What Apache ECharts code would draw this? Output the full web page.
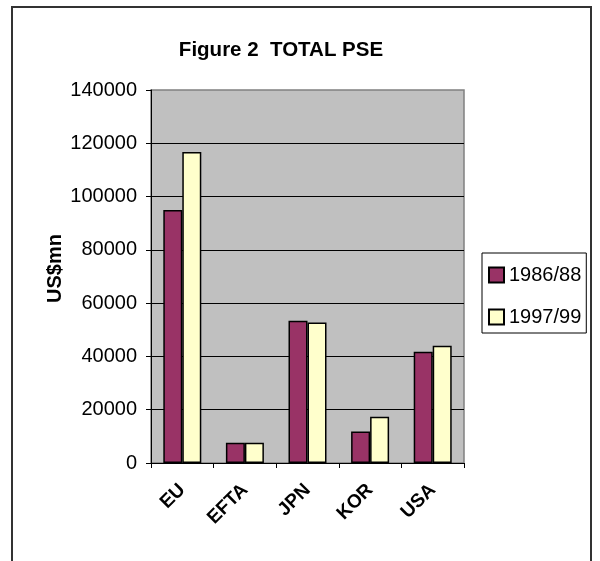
<!DOCTYPE html>
<html>
<head>
<meta charset="utf-8">
<script src="https://cdn.jsdelivr.net/npm/echarts@6/dist/echarts.min.js"></script>
<style>
html,body{margin:0;padding:0;background:#fff;}
#chart{width:600px;height:561px;}
</style>
</head>
<body>
<div id="chart"></div>
<script>
var categories = ['EU', 'EFTA', 'JPN', 'KOR', 'USA'];
var series1986 = [95000, 7600, 53400, 11800, 41800];
var series1997 = [116700, 7600, 52700, 17400, 44000];
var seriesNames = ['1986/88', '1997/99'];
var yTicks = [0, 20000, 40000, 60000, 80000, 100000, 120000, 140000];

var chart = echarts.init(document.getElementById('chart'));
var font = 'Liberation Sans, Arial, sans-serif';
chart.setOption({
  animation: false,
  backgroundColor: '#fff',
  title: {
    text: 'Figure 2  TOTAL PSE',
    left: 276, top: 35, textAlign: 'center',
    textStyle: {fontFamily: font, fontSize: 20.5, fontWeight: 'bold', color: '#000'}
  },
  graphic: [{
    type: 'rect', shape: {x: 12, y: 7, width: 579, height: 600},
    style: {fill: 'none', stroke: '#333', lineWidth: 2}, silent: true
  }],
  legend: {
    orient: 'vertical', left: 482, top: 253,
    padding: [12, 5, 6, 6],
    itemGap: 22, itemWidth: 15, itemHeight: 15,
    icon: 'rect',
    borderColor: '#000', borderWidth: 1,
    backgroundColor: '#fff',
    textStyle: {fontFamily: font, fontSize: 20, color: '#000'},
    data: seriesNames
  },
  grid: {left: 151, top: 90, right: 136, bottom: 98, show: true, backgroundColor: '#C0C0C0', borderColor: '#808080', borderWidth: 1.5},
  xAxis: {
    type: 'category', data: categories,
    axisLine: {lineStyle: {color: '#000', width: 1}},
    axisTick: {show: true, length: 5, lineStyle: {color: '#000'}},
    axisLabel: {rotate: 45, margin: 24, fontFamily: font, fontSize: 19, fontWeight: 'bold', color: '#000'}
  },
  yAxis: {
    type: 'value', min: 0, max: 140000, interval: 20000,
    name: 'US$mn', nameLocation: 'middle', nameRotate: 90, nameGap: 86,
    nameMoveOverlap: false,
    nameTextStyle: {fontFamily: font, fontSize: 20, fontWeight: 'bold', color: '#000', padding: [0, 0, 0, 16]},
    axisLine: {show: true, lineStyle: {color: '#000', width: 1}},
    axisTick: {show: true, length: 5, lineStyle: {color: '#000'}},
    axisLabel: {margin: 14, fontFamily: font, fontSize: 20, color: '#000',
      formatter: function (v) { return yTicks.indexOf(v) >= 0 ? String(v) : ''; }},
    splitLine: {show: true, showMaxLine: false, lineStyle: {color: '#000', width: 1}}
  },
  series: [{
    name: seriesNames[0], type: 'bar', data: series1986,
    barWidth: 19, barGap: '0%',
    itemStyle: {color: '#993366', borderColor: '#000', borderWidth: 1.5}
  }, {
    name: seriesNames[1], type: 'bar', data: series1997,
    barWidth: 19,
    itemStyle: {color: '#FFFFCC', borderColor: '#000', borderWidth: 1.5}
  }]
});
</script>
</body>
</html>
